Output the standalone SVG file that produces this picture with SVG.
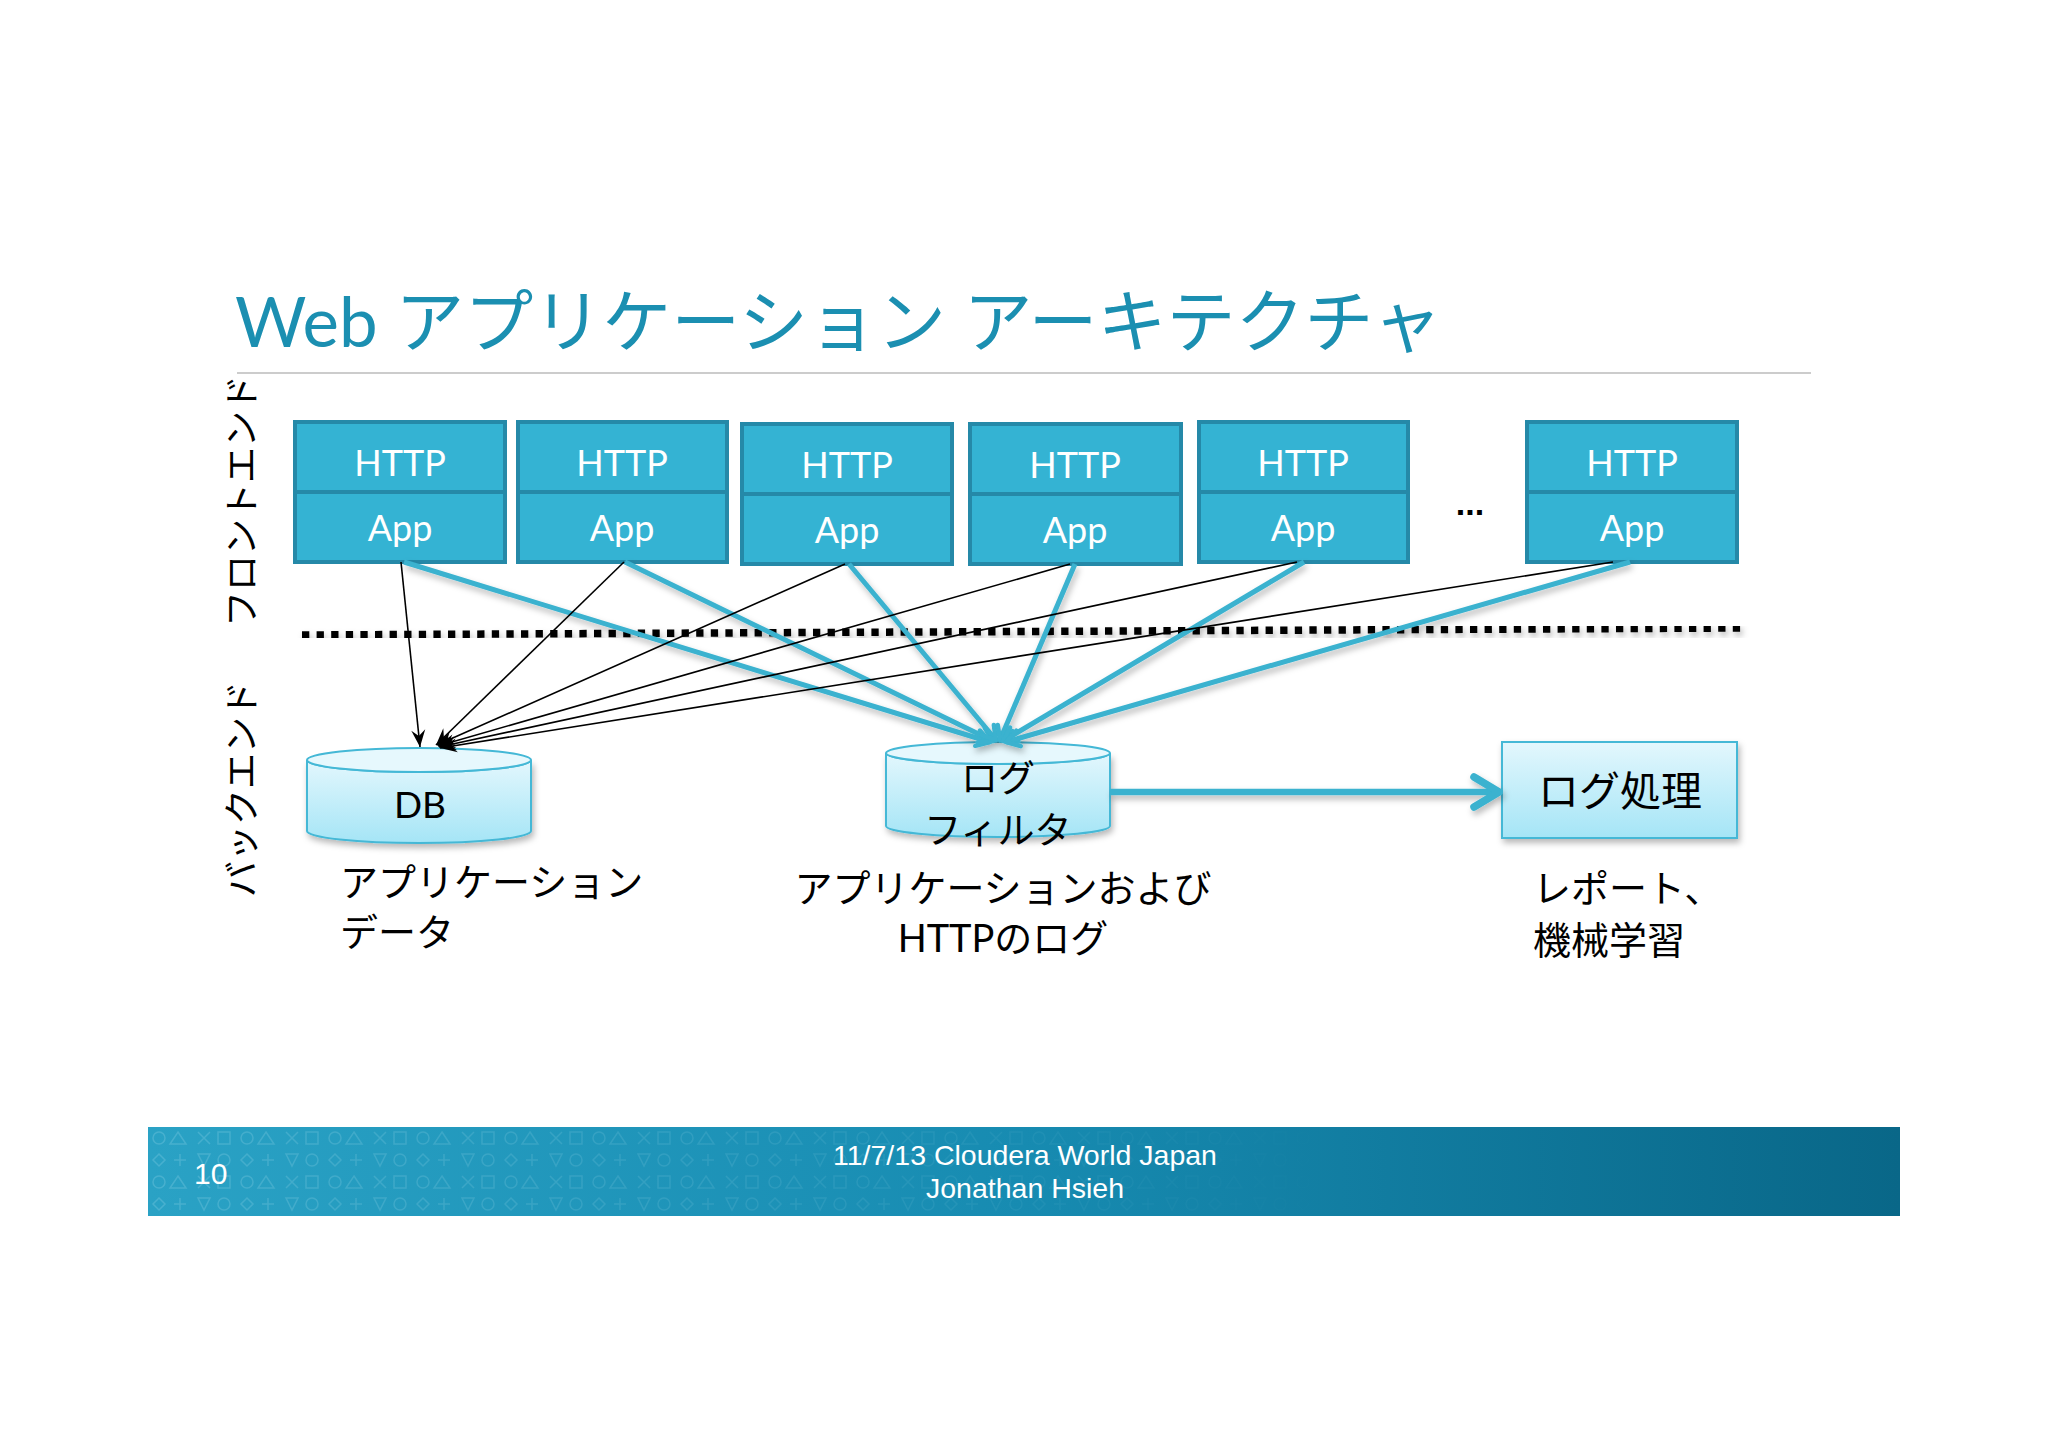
<svg xmlns="http://www.w3.org/2000/svg" width="2048" height="1447" viewBox="0 0 2048 1447">
<style>
.lat{font-family:Lato,"Open Sans","Noto Sans CJK JP",sans-serif}
.jp{font-family:"Noto Sans CJK JP",sans-serif}
.box rect{fill:#34b3d3;stroke:#2589a8;stroke-width:4}
.box text{fill:#fff;font-size:36px;text-anchor:middle;font-family:Lato,"Open Sans",sans-serif}
.lbl{font-family:"Noto Sans CJK JP",sans-serif;font-size:38px;fill:#000}
.ft{font-family:"Liberation Sans",Arial,sans-serif;fill:#fff}
.blk{stroke:#000;stroke-width:1.6;fill:none;marker-end:url(#ab)}
.tl{stroke:#3ab2cf;stroke-width:5;fill:none;marker-end:url(#at)}
.store{fill:url(#gc);stroke:#44b8d6;stroke-width:2}
</style>
<defs>
<linearGradient id="gc" x1="0" y1="0" x2="0" y2="1"><stop offset="0" stop-color="#e3f7fd"/><stop offset="1" stop-color="#a5e5f6"/></linearGradient>
<linearGradient id="gf" x1="0" y1="0" x2="1" y2="0"><stop offset="0" stop-color="#2aa2c5"/><stop offset="0.5" stop-color="#178bb1"/><stop offset="1" stop-color="#096788"/></linearGradient>
<linearGradient id="gm" x1="0" y1="0" x2="1" y2="0"><stop offset="0" stop-color="#fff" stop-opacity="1"/><stop offset="0.55" stop-color="#fff" stop-opacity="0.5"/><stop offset="1" stop-color="#fff" stop-opacity="0"/></linearGradient>
<mask id="fm"><rect x="148" y="1127" width="1200" height="89" fill="url(#gm)"/></mask>
<pattern id="pt" x="148" y="1127" width="88" height="44" patternUnits="userSpaceOnUse">
<g fill="none" stroke="#bfeaf6" stroke-width="1.5">
<circle cx="11" cy="11" r="6"/><path d="M30,5 L38,17 L22,17 z"/><path d="M50,5 L62,17 M62,5 L50,17"/><rect x="70" y="5" width="12" height="12"/>
<path d="M11,27 L17,33 L11,39 L5,33 z"/><path d="M26,33 H38 M32,27 V39"/><path d="M50,27 L62,27 L56,39 z"/><circle cx="76" cy="33" r="6"/>
</g></pattern>
<filter id="sh" x="-10%" y="-20%" width="120%" height="160%"><feDropShadow dx="2" dy="4" stdDeviation="3" flood-color="#000" flood-opacity="0.28"/></filter>
<marker id="ab" markerUnits="userSpaceOnUse" markerWidth="20" markerHeight="20" refX="0" refY="0" orient="auto" overflow="visible"><path d="M-17,-7 L0,0 L-17,7 L-11,0 z" fill="#000"/></marker>
<marker id="at" markerUnits="userSpaceOnUse" markerWidth="20" markerHeight="20" refX="0" refY="0" orient="auto" overflow="visible"><path d="M-13,-8 L0,0 L-13,8" fill="none" stroke="#3ab2cf" stroke-width="4.5" stroke-linecap="round" stroke-linejoin="round"/></marker>
</defs>
<rect width="2048" height="1447" fill="#fff"/>

<g id="title">
<text x="235" y="347" class="lat" font-size="69" fill="#1b8fb1">Web アプリケーション アーキテクチャ</text>
<line x1="237" y1="373" x2="1811" y2="373" stroke="#cccccc" stroke-width="2"/>
</g>

<g id="side-labels" class="jp" font-size="36" fill="#000">
<text transform="translate(239,501) rotate(-90)" text-anchor="middle" dominant-baseline="central">フロントエンド</text>
<text transform="translate(239,789) rotate(-90)" text-anchor="middle" dominant-baseline="central">バックエンド</text>
</g>

<g id="divider" filter="url(#sh)">
<line x1="302" y1="635" x2="1741" y2="628" stroke="#000" stroke-width="7.5" stroke-dasharray="7.3 7.3"/>
</g>

<g id="node-app1" class="box"><rect x="295" y="422" width="210" height="70"/><rect x="295" y="492" width="210" height="70"/><text x="400" y="476">HTTP</text><text x="400" y="541">App</text></g>
<g id="node-app2" class="box"><rect x="518" y="422" width="209" height="70"/><rect x="518" y="492" width="209" height="70"/><text x="622" y="476">HTTP</text><text x="622" y="541">App</text></g>
<g id="node-app3" class="box"><rect x="742" y="424" width="210" height="70"/><rect x="742" y="494" width="210" height="70"/><text x="847" y="478">HTTP</text><text x="847" y="543">App</text></g>
<g id="node-app4" class="box"><rect x="970" y="424" width="211" height="70"/><rect x="970" y="494" width="211" height="70"/><text x="1075" y="478">HTTP</text><text x="1075" y="543">App</text></g>
<g id="node-app5" class="box"><rect x="1199" y="422" width="209" height="70"/><rect x="1199" y="492" width="209" height="70"/><text x="1303" y="476">HTTP</text><text x="1303" y="541">App</text></g>
<g id="node-app6" class="box"><rect x="1527" y="422" width="210" height="70"/><rect x="1527" y="492" width="210" height="70"/><text x="1632" y="476">HTTP</text><text x="1632" y="541">App</text></g>
<text x="1470" y="515" font-family="'Liberation Sans',sans-serif" font-weight="bold" font-size="34" text-anchor="middle" fill="#000">...</text>

<g id="node-db">
<g filter="url(#sh)">
<path class="store" d="M307,760 V831 A112,12 0 0 0 531,831 V760 A112,12 0 0 1 307,760 z"/>
</g>
<ellipse cx="419" cy="760" rx="112" ry="12" fill="#e6f8fd" stroke="#44b8d6" stroke-width="2"/>
<text x="420" y="818" class="lat" font-size="37" text-anchor="middle" fill="#000">DB</text>
</g>

<g id="node-logfilter">
<g filter="url(#sh)">
<path class="store" d="M886,753 V826 A112,11 0 0 0 1110,826 V753 A112,11 0 0 1 886,753 z"/>
</g>
<ellipse cx="998" cy="753" rx="112" ry="11" fill="#e6f8fd" stroke="#44b8d6" stroke-width="2"/>
<text x="998" y="792" class="jp" font-size="37" text-anchor="middle" fill="#000">ログ</text>
<text x="998" y="844" class="jp" font-size="37" text-anchor="middle" fill="#000">フィルタ</text>
</g>

<g id="node-logproc">
<rect x="1502" y="742" width="235" height="96" class="store" filter="url(#sh)"/>
<text x="1620" y="806" class="jp" font-size="41" text-anchor="middle" fill="#000">ログ処理</text>
</g>

<g id="connectors">
<g filter="url(#sh)">
<path class="tl" d="M404,562 L990,742"/>
<path class="tl" d="M625,562 L993,741"/>
<path class="tl" d="M849,564 L996,740"/>
<path class="tl" d="M1075,564 L1000,740"/>
<path class="tl" d="M1304,562 L1003,741"/>
<path class="tl" d="M1630,562 L1006,742"/>
<path d="M1110,792 H1497" stroke="#3ab2cf" stroke-width="6.5" fill="none"/>
<path d="M1474,777 L1499,792 L1474,807" stroke="#3ab2cf" stroke-width="7.5" fill="none" stroke-linecap="round" stroke-linejoin="round"/>
</g>
<path class="blk" d="M401,562 L420,747"/>
<path class="blk" d="M624,562 L436,745"/>
<path class="blk" d="M845,564 L437,745"/>
<path class="blk" d="M1070,564 L438,746"/>
<path class="blk" d="M1297,562 L439,747"/>
<path class="blk" d="M1613,562 L440,748"/>
</g>

<g id="labels">
<text class="lbl" x="340" y="896">アプリケーション</text>
<text class="lbl" x="340" y="946">データ</text>
<text class="lbl" x="1003" y="902" text-anchor="middle">アプリケーションおよび</text>
<text class="lbl" x="1003" y="952" text-anchor="middle"><tspan font-family="Lato,'Open Sans',sans-serif">HTTP</tspan>のログ</text>
<text class="lbl" x="1533" y="902" font-size="41">レポート、</text>
<text class="lbl" x="1533" y="954" font-size="42">機械学習</text>
</g>

<g id="footer">
<rect x="148" y="1127" width="1752" height="89" fill="url(#gf)"/>
<rect x="148" y="1127" width="1200" height="89" fill="url(#pt)" mask="url(#fm)" opacity="0.2"/>
<text class="ft" x="194" y="1184" font-size="30">10</text>
<text class="ft" x="1025" y="1165" font-size="28.5" text-anchor="middle">11/7/13 Cloudera World Japan</text>
<text class="ft" x="1025" y="1198" font-size="28.5" text-anchor="middle">Jonathan Hsieh</text>
</g>
</svg>
